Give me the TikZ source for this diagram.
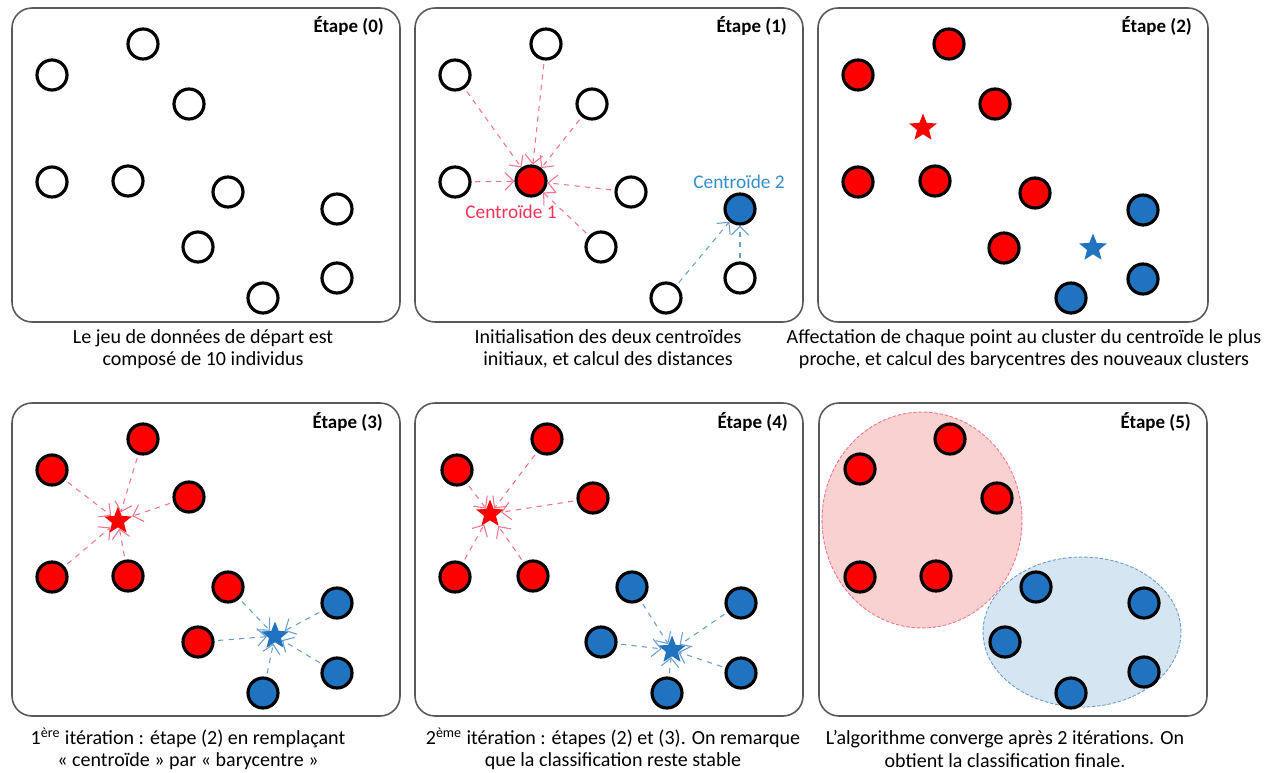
\documentclass[tikz,border=0pt]{standalone}
\usepackage{fontspec}
\setmainfont{Carlito}
\usetikzlibrary{arrows.meta,shapes.geometric}
\definecolor{boxgray}{rgb}{0.35,0.35,0.35}
\definecolor{ptred}{rgb}{1,0,0}
\definecolor{ptblue}{rgb}{0.12,0.45,0.75}
\definecolor{arrred}{rgb}{0.95,0.45,0.55}
\definecolor{arrblue}{rgb}{0.40,0.62,0.82}
\definecolor{txtred}{rgb}{0.95,0.20,0.35}
\definecolor{txtblue}{rgb}{0.20,0.56,0.80}
\definecolor{zonered}{rgb}{0.98,0.82,0.82}
\definecolor{zoneblue}{rgb}{0.84,0.90,0.95}

\begin{document}
\begin{tikzpicture}[x=0.02cm,y=-0.02cm,
  panel/.style={draw=boxgray,line width=0.9pt,rounded corners=0.4cm},
  pt/.style={circle,draw=black,line width=1.8pt,minimum size=0.6cm,inner sep=0pt,fill=white},
  redpt/.style={pt,fill=ptred},
  bluept/.style={pt,fill=ptblue},
  barystar/.style={star,star points=5,star point ratio=2.3,minimum size=0.58cm,inner sep=0pt},
  redstar/.style={barystar,fill=ptred},
  bluestar/.style={barystar,fill=ptblue},
  redarr/.style={draw=arrred,dashed,line width=0.6pt,-{Straight Barb[length=5pt,width=10pt]},shorten <=2pt},
  bluearr/.style={draw=arrblue,dashed,line width=0.6pt,-{Straight Barb[length=5pt,width=10pt]},shorten <=2pt},
  etape/.style={anchor=east,font=\fontsize{10.8}{12}\selectfont\bfseries},
  legende/.style={align=center,font=\fontsize{11.4}{12.6}\selectfont}]
\useasboundingbox (0,0) rectangle (1273,773);

% Etape (0)
\begin{scope}[shift={(12,8)}]
\draw[panel] (0,0) rectangle (388,314);
\node[etape] (t0) at (378,18) {Étape (0)};
\node[pt] (a1) at (131,36) {};
\node[pt] (a2) at (40,67) {};
\node[pt] (a3) at (177,96) {};
\node[pt] (a4) at (40,174) {};
\node[pt] (a5) at (116,173) {};
\node[pt] (a6) at (216,184) {};
\node[pt] (a7) at (325,201) {};
\node[pt] (a8) at (186,239) {};
\node[pt] (a9) at (325,270) {};
\node[pt] (a10) at (251,290) {};
\end{scope}
\node[legende] (l0) at (203,349) {Le jeu de données de départ est\\composé de 10 individus};

% Etape (1)
\begin{scope}[shift={(415,8)}]
\draw[panel] (0,0) rectangle (388,314);
\node[etape] (t1) at (378,18) {Étape (1)};
\node[pt] (b1) at (131,36) {};
\node[pt] (b2) at (40,67) {};
\node[pt] (b3) at (177,96) {};
\node[pt] (b4) at (40,174) {};
\node[redpt] (b5) at (116,173) {};
\node[pt] (b6) at (216,184) {};
\node[bluept] (b7) at (325,201) {};
\node[pt] (b8) at (186,239) {};
\node[pt] (b9) at (325,270) {};
\node[pt] (b10) at (251,290) {};
\node[text=txtred,font=\fontsize{11}{12.5}\selectfont] (c1lab) at (96,204) {Centroïde 1};
\node[text=txtblue,font=\fontsize{11}{12.5}\selectfont] (c2lab) at (324,174) {Centroïde 2};
\end{scope}
\draw[redarr] (b1)--(b5);
\draw[redarr] (b2)--(b5);
\draw[redarr] (b3)--(b5);
\draw[redarr] (b4)--(b5);
\draw[redarr] (b6)--(b5);
\draw[redarr] (b8)--(b5);
\draw[bluearr] (b10)--(b7);
\draw[bluearr] (b9)--(b7);
\node[legende] (l1) at (608,349) {Initialisation des deux centroïdes\\initiaux, et calcul des distances};

% Etape (2)
\begin{scope}[shift={(818,8)}]
\draw[panel] (0,0) rectangle (390,314);
\node[etape] (t2) at (380,18) {Étape (2)};
\node[redpt] (c1) at (131,36) {};
\node[redpt] (c2) at (40,67) {};
\node[redpt] (c3) at (177,96) {};
\node[redpt] (c4) at (40,174) {};
\node[redpt] (c5) at (117,173) {};
\node[redpt] (c6) at (217,185) {};
\node[bluept] (c7) at (325,202) {};
\node[redpt] (c8) at (186,240) {};
\node[bluept] (c9) at (325,271) {};
\node[bluept] (c10) at (253,290) {};
\node[redstar] (cr) at (105,120) {};
\node[bluestar] (cb) at (275,240) {};
\end{scope}
\node[legende] (l2) at (1024,349) {Affectation de chaque point au cluster du centroïde le plus\\proche, et calcul des barycentres des nouveaux clusters};

% Etape (3)
\begin{scope}[shift={(12,403)}]
\draw[panel] (0,0) rectangle (388,313);
\node[etape] (t3) at (377,19) {Étape (3)};
\node[redpt] (d1) at (131,36) {};
\node[redpt] (d2) at (40,67) {};
\node[redpt] (d3) at (177,94) {};
\node[redpt] (d4) at (40,174) {};
\node[redpt] (d5) at (116,173) {};
\node[redpt] (d6) at (216,184) {};
\node[bluept] (d7) at (325,200) {};
\node[redpt] (d8) at (186,239) {};
\node[bluept] (d9) at (325,270) {};
\node[bluept] (d10) at (251,290) {};
\node[redstar] (dr) at (106,118) {};
\node[bluestar] (db) at (263,233) {};
\end{scope}
\draw[redarr] (d1)--(dr);
\draw[redarr] (d2)--(dr);
\draw[redarr] (d3)--(dr);
\draw[redarr] (d4)--(dr);
\draw[redarr] (d5)--(dr);
\draw[bluearr] (d6)--(db);
\draw[bluearr] (d7)--(db);
\draw[bluearr] (d8)--(db);
\draw[bluearr] (d9)--(db);
\draw[bluearr] (d10)--(db);
\node[legende] (l3) at (188,749) {1\textsuperscript{ère} itération : étape (2) en remplaçant\\«~centroïde~» par «~barycentre~»};

% Etape (4)
\begin{scope}[shift={(415,403)}]
\draw[panel] (0,0) rectangle (388,313);
\node[etape] (t4) at (379,19) {Étape (4)};
\node[redpt] (e1) at (132,36) {};
\node[redpt] (e2) at (42,67) {};
\node[redpt] (e3) at (178,95) {};
\node[redpt] (e4) at (40,174) {};
\node[redpt] (e5) at (118,173) {};
\node[bluept] (e6) at (217,184) {};
\node[bluept] (e7) at (326,200) {};
\node[bluept] (e8) at (186,239) {};
\node[bluept] (e9) at (326,270) {};
\node[bluept] (e10) at (252,290) {};
\node[redstar] (er) at (75,111) {};
\node[bluestar] (eb) at (257,247) {};
\end{scope}
\draw[redarr] (e1)--(er);
\draw[redarr] (e2)--(er);
\draw[redarr] (e3)--(er);
\draw[redarr] (e4)--(er);
\draw[redarr] (e5)--(er);
\draw[bluearr] (e6)--(eb);
\draw[bluearr] (e7)--(eb);
\draw[bluearr] (e8)--(eb);
\draw[bluearr] (e9)--(eb);
\draw[bluearr] (e10)--(eb);
\node[legende] (l4) at (613,749) {2\textsuperscript{ème} itération : étapes (2) et (3). On remarque\\que la classification reste stable};

% Etape (5)
\begin{scope}[shift={(819,403)}]
\draw[panel] (0,0) rectangle (388,313);
\node[etape] (t5) at (378,19) {Étape (5)};
\node[ellipse,fill=zonered,draw=arrred,line width=0.5pt,dash pattern=on 2pt off 1pt,minimum width=4cm,minimum height=4.32cm] (zr) at (103,117) {};
\node[ellipse,fill=zoneblue,draw=arrblue,line width=0.5pt,dash pattern=on 2pt off 1pt,minimum width=3.96cm,minimum height=3cm] (zb) at (263,229) {};
\node[redpt] (f1) at (131,36) {};
\node[redpt] (f2) at (41,66) {};
\node[redpt] (f3) at (178,95) {};
\node[redpt] (f4) at (41,174) {};
\node[redpt] (f5) at (117,173) {};
\node[bluept] (f6) at (217,184) {};
\node[bluept] (f7) at (325,200) {};
\node[bluept] (f8) at (186,239) {};
\node[bluept] (f9) at (325,269) {};
\node[bluept] (f10) at (252,290) {};
\end{scope}
\node[legende] (l5) at (1005,749) {L'algorithme converge après 2 itérations. On\\obtient la classification finale.};
\end{tikzpicture}
\end{document}
